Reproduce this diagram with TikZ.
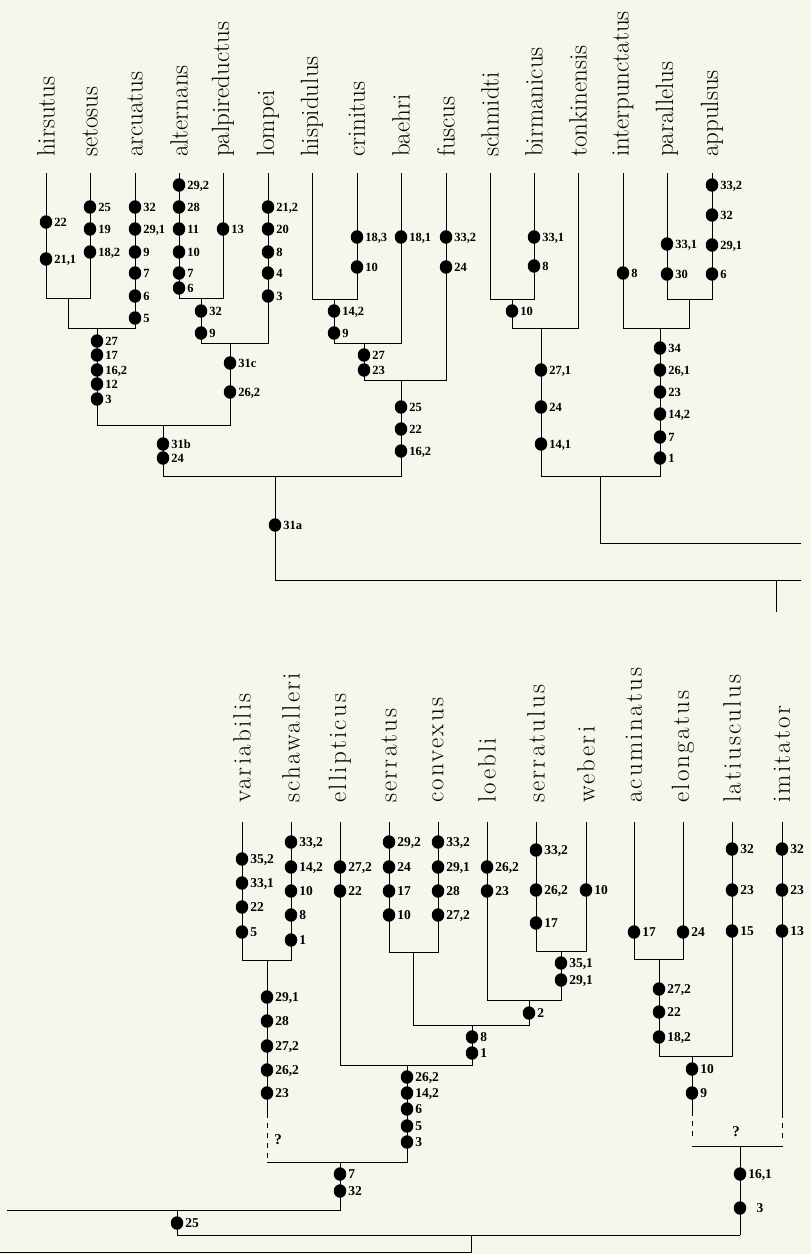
\documentclass[tikz,border=0pt]{standalone}
\usepackage{fontspec}
\usetikzlibrary{shapes.geometric}
\newfontfamily\numfont{Liberation Serif}
\newfontfamily\taxBfont{Latin Modern Roman}[LetterSpace=9]
\definecolor{paper}{RGB}{246,247,236}
\newcommand\mkchars[4]{%
  \foreach \yy/\lab [count=\k] in {#4} {%
    \node[dot] (#2-\k) at (#3,\yy) {};
    \node[#1] (#2-\k-t) at ([xshift=1.6pt]#2-\k.east) {\lab};
  }}
\begin{document}
\begin{tikzpicture}[x=1pt,y=-1pt,
  br/.style={line width=1pt, black},
  dsh/.style={br, dash pattern=on 5pt off 5pt},
  dot/.style={ellipse, fill=black, inner sep=0pt, minimum width=12.5pt, minimum height=13.5pt},
  clab/.style={anchor=west, inner sep=0pt, font=\fontsize{12.5}{13}\selectfont\numfont\bfseries, text height=8.4pt, text depth=0pt},
  clabB/.style={clab, font=\fontsize{13.5}{14}\selectfont\numfont\bfseries, text height=9.1pt},
  tax/.style={rotate=90, anchor=west, inner sep=0pt, font=\fontsize{25}{25}\selectfont},
  taxB/.style={tax, font=\taxBfont\fontsize{25}{25}\selectfont},
  qm/.style={inner sep=0pt, font=\fontsize{15}{15}\selectfont\numfont\bfseries}]
\fill[paper] (0,0) rectangle (811,1254);
\useasboundingbox (0,0) rectangle (811,1254);
% ---------- top tree: tips ----------
\foreach \n/\x/\t in {hir/46/hirsutus, set/90/setosus, arc/135/arcuatus, alt/179/alternans,
  pal/223/palpireductus, lom/268/lompei, hisp/312/hispidulus, cri/357/crinitus,
  bae/401/baehri, fus/446/fuscus, sch/490/schmidti, bir/534/birmanicus,
  ton/578/tonkinensis, int/623/interpunctatus, par/667/parallelus, app/712/appulsus} {
  \coordinate (\n) at (\x,173);
  \node[tax] (L\n) at (\x,157) {\t};
}
% internal vertices
\coordinate (A1) at (68,298);
\coordinate (A2) at (97,328);
\coordinate (A3) at (201,298);
\coordinate (A4) at (230,343);
\coordinate (A5) at (163,425);
\coordinate (B1) at (334,299);
\coordinate (B2) at (364,343);
\coordinate (B3) at (401,380);
\coordinate (AB) at (275,476);
\coordinate (C1) at (512,299);
\coordinate (C2) at (541,328);
\coordinate (D1) at (689,299);
\coordinate (D2) at (660,328);
\coordinate (CD) at (600,476);
\coordinate (CDb) at (600,543);
\coordinate (CDe) at (801,543);
\coordinate (ABb) at (275,580);
\coordinate (ABe) at (801,580);
\coordinate (Vt) at (776,580);
\coordinate (Vb) at (776,612);
\draw[br] (hir) |- (A1) (set) |- (A1) (A1) |- (A2) (arc) |- (A2)
  (alt) |- (A3) (pal) |- (A3) (A3) |- (A4) (lom) |- (A4)
  (A2) |- (A5) (A4) |- (A5)
  (hisp) |- (B1) (cri) |- (B1) (B1) |- (B2) (bae) |- (B2) (B2) |- (B3) (fus) |- (B3)
  (A5) |- (AB) (B3) |- (AB)
  (sch) |- (C1) (bir) |- (C1) (C1) |- (C2) (ton) |- (C2)
  (par) |- (D1) (app) |- (D1) (int) |- (D2) (D1) |- (D2)
  (C2) |- (CD) (D2) |- (CD)
  (CD) -- (CDb) -- (CDe)
  (AB) -- (ABb) -- (ABe)
  (Vt) -- (Vb);
% characters top
\mkchars{clab}{hirc}{46}{222/22, 259/{21,1}}
\mkchars{clab}{setc}{90}{207/25, 229/19, 252/{18,2}}
\mkchars{clab}{arcc}{135}{207/32, 229/{29,1}, 252/9, 273/7, 296/6, 318/5}
\mkchars{clab}{A2c}{97}{341/27, 355/17, 370/{16,2}, 384/12, 399/3}
\mkchars{clab}{altc}{179}{185/{29,2}, 207/28, 229/11, 252/10, 273/7, 288/6}
\mkchars{clab}{palc}{223}{229/13}
\mkchars{clab}{A3c}{201}{311/32, 333/9}
\mkchars{clab}{lomc}{268}{207/{21,2}, 229/20, 252/8, 273/4, 296/3}
\mkchars{clab}{A4c}{230}{363/31c, 392/{26,2}}
\mkchars{clab}{A5c}{163}{444/31b, 458/24}
\mkchars{clab}{cric}{357}{237/{18,3}, 267/10}
\mkchars{clab}{baec}{401}{237/{18,1}}
\mkchars{clab}{fusc}{446}{237/{33,2}, 267/24}
\mkchars{clab}{B1c}{334}{311/{14,2}, 333/9}
\mkchars{clab}{B2c}{364}{355/27, 370/23}
\mkchars{clab}{B3c}{401}{407/25, 429/22, 451/{16,2}}
\mkchars{clab}{birc}{534}{237/{33,1}, 266/8}
\mkchars{clab}{C1c}{512}{311/10}
\mkchars{clab}{C2c}{541}{370/{27,1}, 407/24, 444/{14,1}}
\mkchars{clab}{intc}{623}{273/8}
\mkchars{clab}{parc}{667}{244/{33,1}, 274/30}
\mkchars{clab}{appc}{712}{185/{33,2}, 215/32, 245/{29,1}, 274/6}
\mkchars{clab}{D2c}{660}{348/34, 370/{26,1}, 392/23, 414/{14,2}, 437/7, 458/1}
\mkchars{clab}{ABc}{275}{525/31a}
% ---------- bottom tree: tips ----------
\foreach \n/\x/\t in {var/242/variabilis, scw/291/schawalleri, ell/340/ellipticus,
  ser/389/serratus, con/438/convexus, loe/487/loebli, sel/536/serratulus,
  web/586/weberi, acu/634/acuminatus, elo/683/elongatus, lat/732/latiusculus,
  imi/782/imitator} {
  \coordinate (\n) at (\x,822);
  \node[taxB] (L\n) at (\x,803) {\t};
}
\coordinate (E1) at (267,960);
\coordinate (E1d) at (267,1113);
\coordinate (E1b) at (267,1162);
\coordinate (F1) at (413,952);
\coordinate (G1) at (561,951);
\coordinate (G2) at (529,1000);
\coordinate (F2) at (472,1025);
\coordinate (F3) at (407,1065);
\coordinate (EF) at (340,1162);
\coordinate (EFb) at (340,1210);
\coordinate (Lft) at (7,1210);
\coordinate (X) at (177,1210);
\coordinate (Xb) at (177,1235);
\coordinate (H1) at (659,959);
\coordinate (H2) at (692,1056);
\coordinate (H2d) at (692,1111);
\coordinate (H2e) at (692,1138);
\coordinate (imid) at (782,1113);
\coordinate (imie) at (782,1138);
\coordinate (H3l) at (692,1146);
\coordinate (H3r) at (783,1146);
\coordinate (H3) at (740,1146);
\coordinate (H3b) at (740,1235);
\coordinate (R) at (471,1235);
\coordinate (Rb) at (471,1252);
\coordinate (Rl) at (0,1252);
\draw[br] (var) |- (E1) (scw) |- (E1)
  (ser) |- (F1) (con) |- (F1)
  (sel) |- (G1) (web) |- (G1) (loe) |- (G2) (G1) |- (G2)
  (F1) |- (F2) (G2) |- (F2)
  (ell) |- (F3) (F2) |- (F3)
  (F3) |- (EF) (E1b) -- (EF)
  (E1) -- (E1d)
  (EF) -- (EFb) -- (Lft)
  (X) -- (Xb) -- (H3b)
  (R) -- (Rb) -- (Rl)
  (acu) |- (H1) (elo) |- (H1) (H1) |- (H2) (lat) |- (H2)
  (H2) -- (H2d) (imi) -- (imid)
  (H3l) -- (H3r) (H3) -- (H3b);
\draw[dsh] (E1d) -- (E1b) (H2d) -- (H2e) (imid) -- (imie);
\node[qm] (q1) at (278,1140) {?};
\node[qm] (q2) at (736,1132) {?};
% characters bottom
\mkchars{clabB}{varc}{242}{859/{35,2}, 883/{33,1}, 907/22, 932/5}
\mkchars{clabB}{scwc}{291}{842/{33,2}, 867/{14,2}, 891/10, 915/8, 940/1}
\mkchars{clabB}{E1c}{267}{997/{29,1}, 1021/28, 1046/{27,2}, 1070/{26,2}, 1093/23}
\mkchars{clabB}{ellc}{340}{867/{27,2}, 891/22}
\mkchars{clabB}{serc}{389}{842/{29,2}, 867/24, 891/17, 915/10}
\mkchars{clabB}{conc}{438}{842/{33,2}, 867/{29,1}, 891/28, 915/{27,2}}
\mkchars{clabB}{loec}{487}{867/{26,2}, 891/23}
\mkchars{clabB}{selc}{536}{850/{33,2}, 890/{26,2}, 923/17}
\mkchars{clabB}{webc}{586}{890/10}
\mkchars{clabB}{G1c}{561}{963/{35,1}, 980/{29,1}}
\mkchars{clabB}{G2c}{529}{1013/2}
\mkchars{clabB}{F2c}{472}{1037/8, 1053/1}
\mkchars{clabB}{F3c}{407}{1077/{26,2}, 1093/{14,2}, 1109/6, 1126/5, 1142/3}
\mkchars{clabB}{EFc}{340}{1174/7, 1191/32}
\mkchars{clabB}{Xc}{177}{1223/25}
\mkchars{clabB}{acuc}{634}{932/17}
\mkchars{clabB}{eloc}{683}{932/24}
\mkchars{clabB}{H1c}{659}{989/{27,2}, 1012/22, 1037/{18,2}}
\mkchars{clabB}{latc}{732}{849/32, 890/23, 931/15}
\mkchars{clabB}{imic}{782}{849/32, 890/23, 931/13}
\mkchars{clabB}{H2c}{692}{1069/10, 1093/9}
\mkchars{clabB}{H3c}{740}{1174/{16,1}}
\node[dot] (H3c-2) at (740,1208) {};
\node[clabB] (H3c-2-t) at ([xshift=10pt]H3c-2.east) {3};
\end{tikzpicture}
\end{document}
